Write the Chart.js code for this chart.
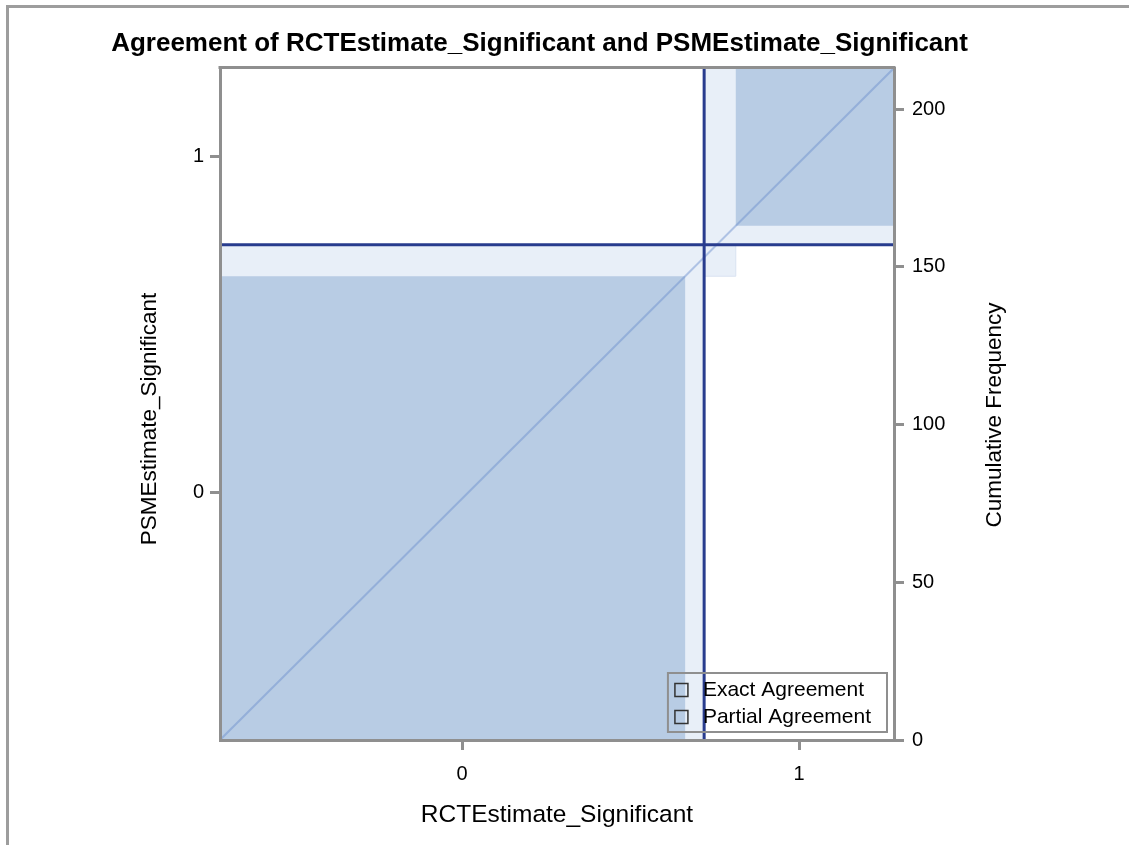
<!DOCTYPE html>
<html>
<head>
<meta charset="utf-8">
<title>Agreement plot</title>
<script src="https://cdn.jsdelivr.net/npm/chart.js@4.4.1/dist/chart.umd.min.js"></script>
<style>
    html, body { margin: 0; padding: 0; background: #fff; }
    #wrap { position: relative; width: 1129px; height: 845px; overflow: hidden; }
    #frame { position: absolute; left: 6px; top: 5px; right: -10px; bottom: -10px;
             border-left: 3px solid #9d9d9d; border-top: 3px solid #9d9d9d; }
    #chart { position: absolute; left: 0; top: 0; }
</style>
</head>
<body>
<div id="wrap">
    <div id="frame"></div>
    <canvas id="chart" width="1129" height="845"></canvas>
</div>
<script>
// agreement plot - RCTEstimate_Significant vs PSMEstimate_Significant

// Data
const categories = ['0', '1'];
const rowRct0 = [147, 6];    // RCT = 0 : PSM = 0, PSM = 1
const rowRct1 = [10, 50];    // RCT = 1 : PSM = 0, PSM = 1
const freqTicks = [0, 50, 100, 150, 200];
const legendLabels = ['Exact Agreement', 'Partial Agreement'];

const COLORS = {
    exact: 'rgb(184, 204, 228)',
    partial: 'rgb(232, 239, 248)',
    partialEdge: 'rgb(218, 227, 242)',
    refLine: 'rgb(40, 60, 142)',
    diagonal: 'rgba(105, 140, 205, 0.45)',
    axis: '#8f8f8f',
    text: '#000'
};
const FONT = 'Liberation Sans, Arial, sans-serif';

// totals used for the rectangle layout
const rowTotals = [rowRct0[0] + rowRct0[1], rowRct1[0] + rowRct1[1]];
const colTotals = [rowRct0[0] + rowRct1[0], rowRct0[1] + rowRct1[1]];
const N = rowTotals[0] + rowTotals[1];
const xMid = [rowTotals[0] / 2, rowTotals[0] + rowTotals[1] / 2];
const yMid = [colTotals[0] / 2, colTotals[0] + colTotals[1] / 2];

function rect(x0, x1, y0, y1) {
    return [{x: x0, y: y0}, {x: x1, y: y0}, {x: x1, y: y1}, {x: x0, y: y1}, {x: x0, y: y0}];
}

function area(data, fillColor, edge) {
    return {
        data,
        fill: 'shape',
        backgroundColor: fillColor,
        borderColor: edge || 'rgba(0,0,0,0)',
        borderWidth: edge ? 1 : 0,
        pointRadius: 0,
        tension: 0
    };
}

function line(data, color, width) {
    return {data, fill: false, borderColor: color, borderWidth: width, pointRadius: 0, tension: 0};
}

// legend, top frame line and the two vertical axis titles
const extras = {
    id: 'extras',
    afterDraw(chart) {
        const {ctx, chartArea: a} = chart;
        ctx.save();

        ctx.strokeStyle = COLORS.axis;
        ctx.lineWidth = 3;
        ctx.beginPath();
        ctx.moveTo(a.left - 1.5, a.top - 0.5);
        ctx.lineTo(a.right + 1.5, a.top - 0.5);
        ctx.stroke();

        // legend box
        ctx.font = `21px ${FONT}`;
        const textW = Math.max(...legendLabels.map(t => ctx.measureText(t).width));
        const boxW = 7 + 13 + 15 + textW + 16;
        const boxH = 59;
        const right = a.right - 7;
        const bottom = a.bottom - 8;
        const left = right - boxW;
        const top = bottom - boxH;
        ctx.strokeStyle = COLORS.axis;
        ctx.lineWidth = 2;
        ctx.strokeRect(left, top, boxW, boxH);
        ctx.textBaseline = 'middle';
        ctx.textAlign = 'left';
        ctx.fillStyle = COLORS.text;
        legendLabels.forEach((t, i) => {
            const cy = top + 17 + i * 27;
            ctx.strokeStyle = '#333';
            ctx.lineWidth = 1.5;
            ctx.strokeRect(left + 7, cy - 6.5, 13, 13);
            ctx.fillText(t, left + 35, cy);
        });

        // axis titles (rotated)
        ctx.font = `22.5px ${FONT}`;
        ctx.textAlign = 'center';
        const cy = (a.top + a.bottom) / 2;
        [[a.left - 70, cy + 15, 'PSMEstimate_Significant'],
         [a.right + 101, cy + 11, 'Cumulative Frequency']].forEach(([x, y, t]) => {
            ctx.save();
            ctx.translate(x, y);
            ctx.rotate(-Math.PI / 2);
            ctx.fillText(t, 0, 0);
            ctx.restore();
        });
        ctx.restore();
    }
};

const tickGrid = {
    drawOnChartArea: false, drawTicks: true, tickLength: 10,
    color: COLORS.axis, tickColor: COLORS.axis, lineWidth: 3, tickWidth: 3
};
const axisBorder = {color: COLORS.axis, width: 3, z: 1};

new Chart(document.getElementById('chart'), {
    type: 'line',
    data: {
        datasets: [
            line([{x: rowTotals[0], y: 0}, {x: rowTotals[0], y: N}], COLORS.refLine, 3),
            line([{x: 0, y: colTotals[0]}, {x: N, y: colTotals[0]}], COLORS.refLine, 3),
            line([{x: 0, y: 0}, {x: N, y: N}], COLORS.diagonal, 2),
            area(rect(0, rowRct0[0], 0, rowRct0[0]), COLORS.exact),
            area(rect(rowTotals[0] + rowRct1[0], N, colTotals[0] + rowRct0[1], N), COLORS.exact),
            area(rect(rowTotals[0], rowTotals[0] + rowRct1[0], rowRct0[0], colTotals[0]), COLORS.partial, COLORS.partialEdge),
            area(rect(0, rowTotals[0], 0, colTotals[0]), COLORS.partial),
            area(rect(rowTotals[0], N, colTotals[0], N), COLORS.partial)
        ]
    },
    options: {
        responsive: false,
        animation: false,
        events: [],
        layout: {padding: {left: 0, right: 50, top: 0, bottom: 0}},
        plugins: {
            legend: {display: false},
            tooltip: {enabled: false},
            title: {
                display: true,
                text: 'Agreement of RCTEstimate_Significant and PSMEstimate_Significant',
                color: COLORS.text,
                font: {family: FONT, size: 26, weight: 'bold'},
                padding: {top: 28, bottom: 8.8}
            }
        },
        scales: {
            x: {
                type: 'linear',
                min: 0,
                max: N,
                afterBuildTicks: s => { s.ticks = xMid.map(v => ({value: v})); },
                afterFit: s => { s.height = 105; },
                ticks: {
                    callback: (v, i) => categories[i],
                    color: COLORS.text,
                    font: {family: FONT, size: 20},
                    padding: 12,
                    maxRotation: 0
                },
                grid: tickGrid,
                border: axisBorder,
                title: {
                    display: true,
                    text: 'RCTEstimate_Significant',
                    color: COLORS.text,
                    font: {family: FONT, size: 24.5},
                    padding: {top: 0, bottom: 15}
                }
            },
            y: {
                type: 'linear',
                position: 'left',
                min: 0,
                max: N,
                afterBuildTicks: s => { s.ticks = yMid.map(v => ({value: v})); },
                afterFit: s => { s.width = 220; },
                ticks: {
                    callback: (v, i) => categories[i],
                    color: COLORS.text,
                    font: {family: FONT, size: 20},
                    padding: 6
                },
                grid: tickGrid,
                border: axisBorder
            },
            y2: {
                type: 'linear',
                position: 'right',
                min: 0,
                max: N,
                afterBuildTicks: s => { s.ticks = freqTicks.map(v => ({value: v})); },
                afterFit: s => { s.width = 1129 - 50 - 894; },
                ticks: {
                    color: COLORS.text,
                    font: {family: FONT, size: 20},
                    padding: 8
                },
                grid: tickGrid,
                border: axisBorder
            }
        }
    },
    plugins: [extras]
});
</script>
</body>
</html>
